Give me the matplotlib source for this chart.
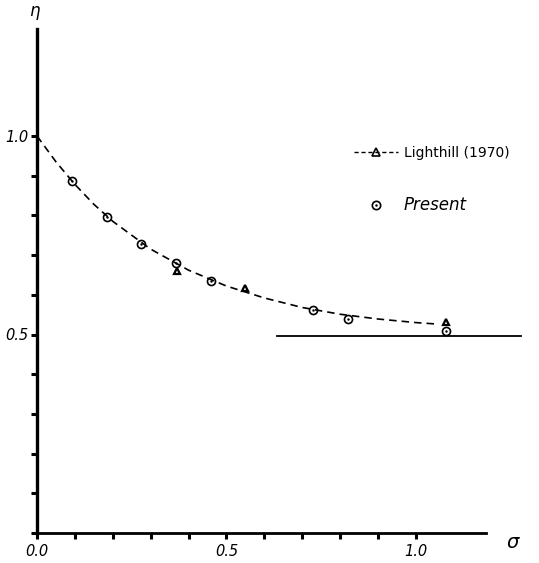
import matplotlib
matplotlib.use("Agg")
import matplotlib.pyplot as plt
from matplotlib.lines import Line2D
from matplotlib.legend_handler import HandlerTuple

# present results (circles)
sigma_present = [0.092, 0.184, 0.275, 0.367, 0.458, 0.727, 0.821, 1.078]
eta_present = [0.887, 0.797, 0.727, 0.680, 0.636, 0.562, 0.539, 0.510]

# Lighthill (1970) points (triangles)
sigma_lh = [0.369, 0.550, 1.079]
eta_lh = [0.660, 0.618, 0.532]

# Lighthill (1970) curve
sigma_curve = [0.0, 0.05, 0.1, 0.15, 0.2, 0.3, 0.4, 0.5, 0.6, 0.7, 0.8, 0.9, 1.0, 1.06]
eta_curve = [1.0, 0.935, 0.878, 0.828, 0.785, 0.715, 0.662, 0.622, 0.592, 0.568,
             0.551, 0.539, 0.530, 0.526]

# asymptote
asym_eta = 0.495
asym_sigma = [0.632, 1.277]

fig = plt.figure(figsize=(5.39, 5.63), dpi=100)
ax = fig.add_axes([37 / 539, 30 / 563, 1.3 * 379 / 539, 1.3 * 397 / 563])
ax.set_xlim(0, 1.3)
ax.set_ylim(0, 1.3)

ax.plot(sigma_curve, eta_curve, color='black', ls=(0, (4.5, 3)), lw=1.2)
ax.plot(asym_sigma, [asym_eta, asym_eta], color='black', lw=1.3)
ax.plot(sigma_lh, eta_lh, ls='none', marker='^', ms=5, mfc='none', mec='black', mew=1.6)
ax.plot(sigma_present, eta_present, ls='none', marker='o', ms=5.8, mfc='none', mec='black', mew=1.2)
ax.plot(sigma_present, eta_present, ls='none', marker='.', ms=1.5, color='black')

# axes
for s in ['top', 'right']:
    ax.spines[s].set_visible(False)
ax.spines['left'].set_bounds(0, 1.27)
ax.spines['bottom'].set_bounds(0, 1.185)
ax.spines['left'].set_linewidth(2.4)
ax.spines['bottom'].set_linewidth(2.0)

ticks = [i / 10 for i in range(11)]
ax.set_xticks(ticks)
ax.set_yticks(ticks)
ax.set_xticklabels(['0.0', '', '', '', '', '0.5', '', '', '', '', '1.0'],
                   fontsize=10.5, style='italic')
ax.set_yticklabels(['', '', '', '', '', '0.5', '', '', '', '', '1.0'],
                   fontsize=10.5, style='italic')
ax.tick_params(axis='both', direction='out', length=4, width=2.2, pad=4)
ax.tick_params(axis='y', pad=2)

ax.text(-0.005, 1.31, r'$\eta$', fontsize=12, ha='center', va='center', clip_on=False)
ax.text(1.256, -0.023, r'$\sigma$', fontsize=14, ha='center', va='center', clip_on=False)

# legend
h_lh = Line2D([], [], color='black', ls=(0, (3, 2)), lw=1.0, marker='^', ms=6,
              mfc='none', mec='black', mew=1.2)
h_c1 = Line2D([], [], ls='none', marker='o', ms=6, mfc='none', mec='black', mew=1.2)
h_c2 = Line2D([], [], ls='none', marker='.', ms=1.5, color='black')
leg = ax.legend([h_lh, (h_c1, h_c2)], ['Lighthill (1970)', 'Present'],
                handler_map={tuple: HandlerTuple(ndivide=1, pad=0)},
                loc='upper left', bbox_to_anchor=(0.618, 0.775), frameon=False,
                numpoints=1, handlelength=3.2, handletextpad=0.4, labelspacing=2.6,
                fontsize=10)
for t in leg.get_texts():
    if t.get_text() == 'Present':
        t.set_fontsize(12)
        t.set_style('italic')

fig.savefig('out.png', dpi=100)
